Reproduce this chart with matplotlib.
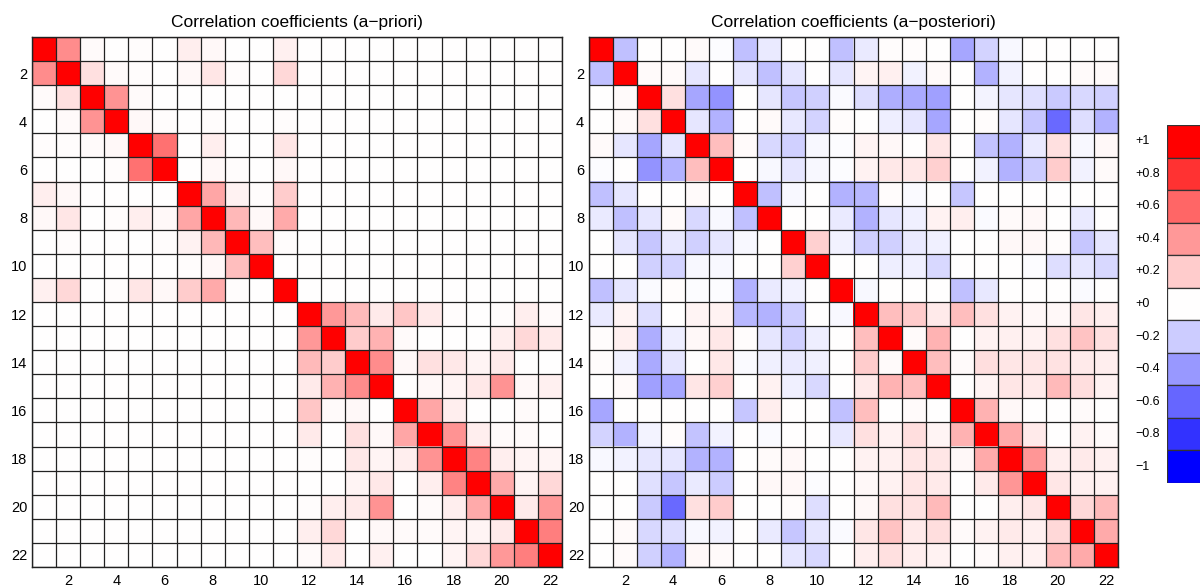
import numpy as np
import matplotlib
matplotlib.use("Agg")
import matplotlib.pyplot as plt
import matplotlib.transforms as mtransforms

plt.rcParams['font.family'] = ['Liberation Sans', 'DejaVu Sans']

# correlation matrices of the 22 parameters
prior_corr = [
    [1, .45, .02, 0, .01, 0, .07, .03, 0, 0, .06, 0, 0, 0, 0, 0, 0, 0, 0, 0, 0, 0],
    [.45, 1, .12, .02, .01, 0, .03, .1, .01, 0, .15, 0, 0, 0, 0, 0, 0, 0, 0, 0, 0, 0],
    [.02, .12, 1, .42, .02, 0, 0, 0, 0, 0, 0, 0, 0, 0, 0, 0, 0, 0, 0, 0, 0, 0],
    [0, .02, .42, 1, .03, .01, 0, .01, 0, 0, .01, 0, 0, 0, 0, 0, 0, 0, 0, 0, 0, 0],
    [.01, .01, .02, .03, 1, .55, 0, .07, 0, 0, .1, 0, 0, 0, 0, 0, 0, 0, 0, 0, 0, 0],
    [0, 0, 0, .01, .55, 1, 0, .03, .01, 0, .03, 0, 0, 0, 0, 0, 0, 0, 0, 0, 0, 0],
    [.07, .03, 0, 0, 0, 0, 1, .35, .05, .01, .2, 0, 0, 0, 0, 0, 0, 0, 0, 0, 0, 0],
    [.03, .1, 0, .01, .07, .03, .35, 1, .28, .03, .33, 0, 0, 0, 0, 0, 0, 0, 0, 0, 0, 0],
    [0, .01, 0, 0, 0, .01, .05, .28, 1, .25, .01, 0, 0, 0, 0, 0, 0, 0, 0, 0, 0, 0],
    [0, 0, 0, 0, 0, 0, .01, .03, .25, 1, 0, 0, 0, 0, 0, 0, 0, 0, 0, 0, 0, 0],
    [.06, .15, 0, .01, .1, .03, .2, .33, .01, 0, 1, 0, 0, 0, 0, 0, 0, 0, 0, 0, 0, 0],
    [0, 0, 0, 0, 0, 0, 0, 0, 0, 0, 0, 1, .4, .27, .08, .22, .08, .01, 0, .01, .07, .02],
    [0, 0, 0, 0, 0, 0, 0, 0, 0, 0, 0, .4, 1, .2, .3, .02, 0, 0, 0, .07, .15, .08],
    [0, 0, 0, 0, 0, 0, 0, 0, 0, 0, 0, .27, .2, 1, .45, .03, .12, .09, .04, .08, 0, 0],
    [0, 0, 0, 0, 0, 0, 0, 0, 0, 0, 0, .08, .3, .45, 1, 0, .03, .04, .09, .42, .03, .06],
    [0, 0, 0, 0, 0, 0, 0, 0, 0, 0, 0, .22, .02, .03, 0, 1, .35, .07, 0, 0, .02, 0],
    [0, 0, 0, 0, 0, 0, 0, 0, 0, 0, 0, .08, 0, .12, .03, .35, 1, .42, .07, .02, .02, 0],
    [0, 0, 0, 0, 0, 0, 0, 0, 0, 0, 0, .01, 0, .09, .04, .07, .42, 1, .48, .07, .04, .04],
    [0, 0, 0, 0, 0, 0, 0, 0, 0, 0, 0, 0, 0, .04, .09, 0, .07, .48, 1, .33, .04, .15],
    [0, 0, 0, 0, 0, 0, 0, 0, 0, 0, 0, .01, .07, .08, .42, 0, .02, .07, .33, 1, .08, .4],
    [0, 0, 0, 0, 0, 0, 0, 0, 0, 0, 0, .07, .15, 0, .03, .02, .02, .04, .04, .08, 1, .5],
    [0, 0, 0, 0, 0, 0, 0, 0, 0, 0, 0, .02, .08, 0, .06, 0, 0, .04, .15, .4, .5, 1],
]

posterior_corr = [
    [1, -.25, 0, 0, .02, -.01, -.25, -.08, 0, 0, -.25, -.08, .01, .01, 0, -.35, -.17, -.03, 0, 0, 0, 0],
    [-.25, 1, .02, .02, -.1, 0, -.1, -.25, -.1, 0, -.1, .04, .06, -.05, .02, 0, -.3, -.05, 0, 0, .02, .02],
    [0, .02, 1, .12, -.35, -.42, 0, -.1, -.22, -.18, -.02, -.13, -.32, -.33, -.37, 0, -.04, -.1, -.12, -.21, -.15, -.18],
    [0, .02, .12, 1, -.1, -.3, 0, .02, -.09, -.17, .01, 0, -.07, -.1, -.35, 0, .01, -.1, -.22, -.58, -.13, -.3],
    [.02, -.1, -.35, -.1, 1, .25, .02, -.15, -.18, -.03, -.01, .04, .03, 0, .1, 0, -.23, -.3, -.08, .12, -.03, .03],
    [-.01, 0, -.42, -.3, .25, 1, 0, -.03, -.1, -.03, -.01, .05, .09, .09, .18, 0, -.05, -.3, -.2, .2, -.05, .02],
    [-.25, -.1, 0, 0, .02, 0, 1, -.25, -.03, 0, -.3, -.28, .01, -.02, 0, -.22, 0, 0, 0, 0, 0, 0],
    [-.08, -.25, -.1, .02, -.15, -.03, -.25, 1, 0, 0, -.08, -.3, -.1, -.06, .05, .07, -.02, .02, .03, 0, -.08, 0],
    [0, -.1, -.22, -.09, -.18, -.1, -.03, 0, 1, .18, -.05, -.19, -.18, -.08, -.06, 0, 0, .03, .03, .01, -.22, -.1],
    [0, 0, -.18, -.17, -.03, -.03, 0, 0, .18, 1, 0, 0, -.07, -.06, -.15, 0, 0, 0, -.01, -.13, -.1, -.15],
    [-.25, -.1, -.02, .01, -.01, -.01, -.3, -.08, -.05, 0, 1, -.03, 0, 0, 0, -.25, -.09, 0, 0, 0, -.02, 0],
    [-.08, .04, -.13, 0, .04, .05, -.28, -.3, -.19, 0, -.03, 1, .25, .2, .08, .25, .12, .05, .03, .03, .1, .07],
    [.01, .06, -.32, -.07, .03, .09, .01, -.1, -.18, -.07, 0, .25, 1, .02, .29, 0, .05, .06, .05, .12, .23, .12],
    [.01, -.05, -.33, -.1, 0, .09, -.02, -.06, -.08, -.06, 0, .2, .02, 1, .25, .02, .13, .1, .1, .11, .08, .07],
    [0, .02, -.37, -.35, .1, .18, 0, .05, -.06, -.15, 0, .08, .29, .25, 1, 0, .04, .1, .08, .27, .13, .05],
    [-.35, 0, 0, 0, 0, 0, -.22, .07, 0, 0, -.25, .25, 0, .02, 0, 1, .3, .03, 0, 0, .02, 0],
    [-.17, -.3, -.04, .01, -.23, -.05, 0, -.02, 0, 0, -.09, .12, .05, .13, .04, .3, 1, .33, .08, 0, .05, .02],
    [-.03, -.05, -.1, -.1, -.3, -.3, 0, .02, .03, 0, 0, .05, .06, .1, .1, .03, .33, 1, .41, .07, .08, .06],
    [0, 0, -.12, -.22, -.08, -.2, 0, .03, .03, -.01, 0, .03, .05, .1, .08, 0, .08, .41, 1, .1, .06, .05],
    [0, 0, -.21, -.58, .12, .2, 0, 0, .01, -.13, 0, .03, .12, .11, .27, 0, 0, .07, .1, 1, .15, .27],
    [0, .02, -.15, -.13, -.03, -.05, 0, -.08, -.22, -.1, -.02, .1, .23, .08, .13, .02, .05, .08, .06, .15, 1, .33],
    [0, .02, -.18, -.3, .03, .02, 0, 0, -.1, -.15, 0, .07, .12, .07, .05, 0, .02, .06, .05, .27, .33, 1],
]

axis_ticks = [2, 4, 6, 8, 10, 12, 14, 16, 18, 20, 22]

cbar_levels = [1, 0.8, 0.6, 0.4, 0.2, 0, -0.2, -0.4, -0.6, -0.8, -1]
cbar_labels = ['+1', '+0.8', '+0.6', '+0.4', '+0.2', '+0',
               '\u22120.2', '\u22120.4', '\u22120.6', '\u22120.8', '\u22121']

W, H = 1200, 587
fig = plt.figure(figsize=(W / 100, H / 100), dpi=100)
cmap = plt.get_cmap('bwr')
grid_col = '#222222'


def draw_matrix(rect, corr, title):
    ax = fig.add_axes(rect)
    m = np.array(corr, dtype=float)
    n = m.shape[0]
    ax.imshow(m, cmap=cmap, vmin=-1, vmax=1, interpolation='nearest',
              extent=(0.5, n + 0.5, n + 0.5, 0.5), aspect='auto')
    for k in np.arange(0.5, n + 1):
        ax.axhline(k, color=grid_col, lw=0.9)
        ax.axvline(k, color=grid_col, lw=0.9)
    ax.set_xlim(0.5, n + 0.5)
    ax.set_ylim(n + 0.5, 0.5)
    ax.set_xticks(axis_ticks)
    ax.set_yticks(axis_ticks)
    ax.set_xticklabels([str(t) for t in axis_ticks])
    ax.set_yticklabels([str(t) for t in axis_ticks])
    ax.tick_params(axis='x', length=0, pad=5, labelsize=10.5)
    ax.tick_params(axis='y', length=0, pad=3.5, labelsize=10.5)
    for s in ax.spines.values():
        s.set_color(grid_col)
        s.set_linewidth(1.0)
    ax.set_title(title, fontsize=12.5, pad=7)
    return ax


draw_matrix([32 / W, 20 / H, 530 / W, 530 / H], prior_corr,
            'Correlation coefficients (a\u2212priori)')
draw_matrix([589 / W, 20 / H, 529 / W, 530 / H], posterior_corr,
            'Correlation coefficients (a\u2212posteriori)')

# colour key: one box per level, labels on the left
cax = fig.add_axes([1167 / W, 104 / H, 48 / W, 358 / H])
pos = np.arange(len(cbar_levels))
cax.barh(pos, 1, height=1, left=0,
         color=[cmap((v + 1) / 2) for v in cbar_levels],
         edgecolor='#333333', linewidth=0.9)
cax.set_xlim(0, 1)
cax.set_ylim(len(cbar_levels) - 0.5, -0.5)
cax.axis('off')
trans = mtransforms.blended_transform_factory(cax.transAxes, cax.transData)
for p, lab in zip(pos, cbar_labels):
    cax.text(-32 / 48, p, lab, transform=trans, ha='left', va='center', fontsize=9)

fig.savefig('out.png', dpi=100)
